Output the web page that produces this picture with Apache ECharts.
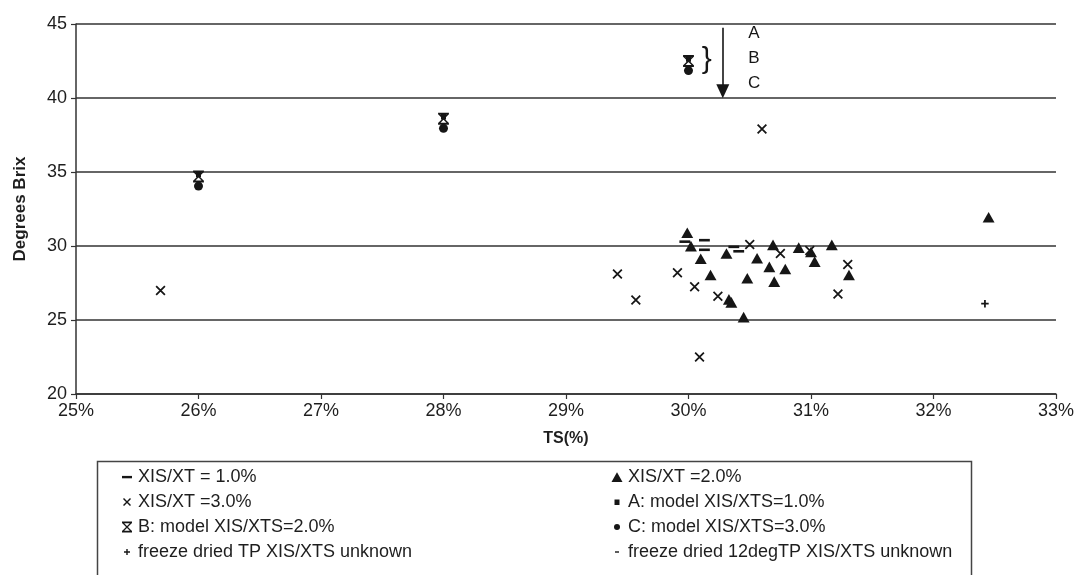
<!DOCTYPE html>
<html>
<head>
<meta charset="utf-8">
<script src="https://cdn.jsdelivr.net/npm/echarts@6/dist/echarts.min.js"></script>
<style>html,body{margin:0;padding:0;background:#fff;}#c{width:1077px;height:575px;}</style>
</head>
<body>
<div id="c"></div>
<script>
// ---- data (TS %, Degrees Brix) ----
const xTicks = [25, 26, 27, 28, 29, 30, 31, 32, 33];
const yTicks = [20, 25, 30, 35, 40, 45];

const names = [
  'XIS/XT = 1.0%', 'XIS/XT =2.0%', 'XIS/XT =3.0%', 'A: model XIS/XTS=1.0%',
  'B: model XIS/XTS=2.0%', 'C: model XIS/XTS=3.0%',
  'freeze dried TP XIS/XTS unknown', 'freeze dried 12degTP XIS/XTS unknown'
];

const xis1 = [[29.97, 30.3], [30.13, 30.4], [30.13, 29.75], [30.37, 29.95], [30.41, 29.65]];
const xis2 = [[29.99, 30.9], [30.02, 30.0], [30.1, 29.15], [30.18, 28.05], [30.31, 29.5],
  [30.33, 26.4], [30.35, 26.2], [30.45, 25.2], [30.48, 27.83], [30.56, 29.18],
  [30.69, 30.08], [30.66, 28.6], [30.7, 27.6], [30.79, 28.45], [30.9, 29.9],
  [31.0, 29.6], [31.03, 28.95], [31.17, 30.08], [31.31, 28.05], [32.45, 31.95]];
const xis3 = [[25.69, 27.0], [29.42, 28.1], [29.57, 26.35], [29.91, 28.2], [30.05, 27.25],
  [30.24, 26.6], [30.09, 22.5], [30.5, 30.1], [30.6, 37.9], [30.75, 29.5],
  [30.99, 29.7], [31.3, 28.75], [31.22, 26.75]];
const modelA = [[26.0, 34.85], [28.0, 38.75], [30.0, 42.65]];
const modelB = [[26.0, 34.7], [28.0, 38.6], [30.0, 42.5]];
const modelC = [[26.0, 34.05], [28.0, 37.95], [30.0, 41.85]];
const freezeTP = [[32.42, 26.1]];
const freeze12 = [];

// annotation (arrow A -> B -> C)
const arrowFrom = [30.28, 44.75];
const arrowTo = [30.28, 40.45];
const bracketAt = [30.15, 42.6];
const letters = [['A', 30.535, 44.4], ['B', 30.535, 42.7], ['C', 30.535, 41.0]];

// ---- symbols (12x12 box, padded by moveTo) ----
const P = 'path://M0,0M12,12';
const SYM = {
  dash: P + 'M1,4.9L11,4.9L11,7.3L1,7.3Z',
  tri: P + 'M6,1.2L11.5,11L0.5,11Z',
  cross: P + 'M2,3L3,2L10,9L9,10Z M9,2L10,3L3,10L2,9Z',
  bmod: P + 'M1,0.5L11,0.5L11,2.2L1,2.2Z M1,9.8L11,9.8L11,11.5L1,11.5Z M1.3,2.2L3.2,2.2L10.7,9.8L8.8,9.8Z M8.8,2.2L10.7,2.2L3.2,9.8L1.3,9.8Z',
  sq: P + 'M3.5,3.5L8.5,3.5L8.5,9L3.5,9Z',
  circ: P + 'M6,3A3,3,0,1,1,6,9A3,3,0,1,1,6,3Z',
  plus: P + 'M5.3,3L6.7,3L6.7,5.3L9,5.3L9,6.7L6.7,6.7L6.7,9L5.3,9L5.3,6.7L3,6.7L3,5.3L5.3,5.3Z',
  minus: P + 'M4,5.3L8,5.3L8,6.7L4,6.7Z'
};

const INK = '#161616';
const FONT = '"Liberation Sans", Arial, Helvetica, sans-serif';

function sc(name, data, symbol, size, z) {
  return { type: 'scatter', name, data, symbol, symbolSize: size, z: z || 2,
    itemStyle: { color: INK, opacity: 1 }, emphasis: { disabled: true }, silent: true };
}

const series = [
  sc(names[1], xis2, SYM.tri, 13, 2),
  sc(names[0], xis1, SYM.dash, 13, 3),
  sc(names[2], xis3, SYM.cross, 15, 4),
  sc(names[3], modelA, SYM.sq, 12, 3),
  sc(names[4], modelB, SYM.bmod, 13, 4),
  sc(names[5], modelC, SYM.circ, 18, 4),
  sc(names[6], freezeTP, SYM.plus, 15, 4),
  sc(names[7], freeze12, SYM.minus, 12, 4),
  {
    type: 'scatter', name: 'annot', data: [], silent: true,
    markLine: {
      silent: true, symbol: ['none', 'triangle'], symbolSize: [13, 14],
      lineStyle: { color: INK, width: 1.6, type: 'solid' },
      label: { show: false },
      data: [[{ coord: arrowFrom }, { coord: arrowTo }]]
    },
    markPoint: {
      silent: true, symbol: 'circle', symbolSize: 1, itemStyle: { color: 'rgba(0,0,0,0)' },
      label: { show: true, position: 'inside', color: INK, fontFamily: FONT },
      data: [
        { coord: bracketAt, label: { formatter: '}', fontSize: 30 } }
      ].concat(letters.map(l => ({ coord: [l[1], l[2]], label: { formatter: l[0], fontSize: 17 } })))
    }
  }
];

const iconOf = {};
iconOf[names[0]] = SYM.dash; iconOf[names[1]] = SYM.tri; iconOf[names[2]] = SYM.cross;
iconOf[names[3]] = SYM.sq; iconOf[names[4]] = SYM.bmod; iconOf[names[5]] = SYM.circ;
iconOf[names[6]] = SYM.plus; iconOf[names[7]] = SYM.minus;

function legend(left, items) {
  return {
    left, top: 467, orient: 'vertical', itemGap: 5, itemWidth: 12, itemHeight: 12,
    selectedMode: false, padding: 0,
    textStyle: { fontSize: 18, color: '#1e1e1e', fontFamily: FONT, lineHeight: 20 },
    data: items.map(n => ({ name: n, icon: iconOf[n], itemStyle: { color: INK } }))
  };
}

const chart = echarts.init(document.getElementById('c'), null, { renderer: 'canvas' });
chart.setOption({
  backgroundColor: '#fff',
  animation: false,
  textStyle: { fontFamily: FONT },
  grid: { left: 76, right: 20, top: 24, bottom: 181, containLabel: false },
  xAxis: {
    type: 'value', min: xTicks[0], max: xTicks[xTicks.length - 1], interval: 1,
    name: 'TS(%)', nameLocation: 'middle', nameGap: 37,
    nameTextStyle: { fontSize: 16, fontWeight: 'bold', color: '#1e1e1e', fontFamily: FONT },
    axisLine: { show: true, onZero: false, lineStyle: { color: '#333', width: 1.5 } },
    axisTick: { show: true, length: 5, lineStyle: { color: '#333', width: 1.2 } },
    axisLabel: { fontSize: 18, color: '#1e1e1e', margin: 8, fontFamily: FONT, formatter: '{value}%' },
    splitLine: { show: false }
  },
  yAxis: {
    type: 'value', min: yTicks[0], max: yTicks[yTicks.length - 1], interval: 5,
    name: 'Degrees Brix', nameLocation: 'middle', nameGap: 47, nameRotate: 90,
    nameTextStyle: { fontSize: 17, fontWeight: 'bold', color: '#1e1e1e', fontFamily: FONT },
    axisLine: { show: true, lineStyle: { color: '#333', width: 1.5 } },
    axisTick: { show: true, length: 5, lineStyle: { color: '#333', width: 1.2 } },
    axisLabel: { fontSize: 18, color: '#1e1e1e', margin: 9, fontFamily: FONT },
    splitLine: { show: true, lineStyle: { color: '#333', width: 1.6 } }
  },
  legend: [
    legend(121, [names[0], names[2], names[4], names[6]]),
    legend(611, [names[1], names[3], names[5], names[7]])
  ],
  graphic: [{
    type: 'rect', left: 95, top: 459, silent: true,
    shape: { width: 874, height: 140 },
    style: { fill: 'none', stroke: '#444', lineWidth: 1.5 }
  }],
  series
});
</script>
</body>
</html>
